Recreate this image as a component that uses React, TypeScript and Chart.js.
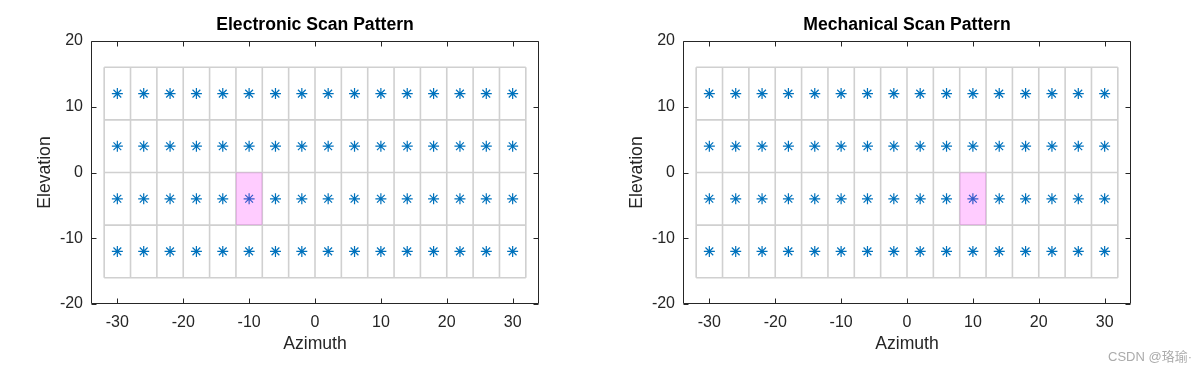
import { useEffect, useRef } from "react";
import { Chart, registerables } from "chart.js";
Chart.register(...registerables);

// ---- data ----
const azCenters = [-30, -26, -22, -18, -14, -10, -6, -2, 2, 6, 10, 14, 18, 22, 26, 30];
const elCenters = [-12, -4, 4, 12];
const azEdges = [-32, -28, -24, -20, -16, -12, -8, -4, 0, 4, 8, 12, 16, 20, 24, 28, 32];
const elEdges = [-16, -8, 0, 8, 16];
const xTicks = [-30, -20, -10, 0, 10, 20, 30];
const yTicks = [-20, -10, 0, 10, 20];
const xRange = [-34, 34];
const yRange = [-20, 20];
const titles = ["Electronic Scan Pattern", "Mechanical Scan Pattern"];
const activeAz = [-10, 10];
const activeEl = [-4, -4];
const xLabel = "Azimuth";
const yLabel = "Elevation";

const FONT = "'Liberation Sans', Arial, Helvetica, sans-serif";
const INK = "#262626";

function cellBounds(edges: number[], c: number): [number, number] {
  let lo = edges[0];
  let hi = edges[edges.length - 1];
  for (const e of edges) {
    if (e <= c && e > lo) lo = e;
    if (e >= c && e < hi) hi = e;
  }
  return [lo, hi];
}

const framePlugin = {
  id: "matlabFrame",
  afterDatasetsDraw(chart: any) {
    const { ctx, chartArea: a, scales } = chart;
    const x = scales.x;
    const y = scales.y;
    ctx.save();
    ctx.strokeStyle = INK;
    ctx.lineWidth = 1;
    const L = Math.round(a.left) + 0.5;
    const R = Math.round(a.right) - 0.5;
    const T = Math.round(a.top) + 0.5;
    const B = Math.round(a.bottom) - 0.5;
    ctx.beginPath();
    ctx.rect(L, T, R - L, B - T);
    const tl = 5;
    for (const t of x.ticks) {
      const px = Math.round(x.getPixelForValue(t.value)) + 0.5;
      ctx.moveTo(px, B);
      ctx.lineTo(px, B - tl);
      ctx.moveTo(px, T);
      ctx.lineTo(px, T + tl);
    }
    for (const t of y.ticks) {
      const py = Math.round(y.getPixelForValue(t.value)) + 0.5;
      ctx.moveTo(L, py);
      ctx.lineTo(L + tl, py);
      ctx.moveTo(R, py);
      ctx.lineTo(R - tl, py);
    }
    ctx.stroke();
    ctx.restore();
  },
};

function Panel({ idx, left }: { idx: number; left: number }) {
  const ref = useRef<HTMLCanvasElement>(null);
  useEffect(() => {
    if (!ref.current) return;
    const gridPts: any[] = [];
    for (const e of azEdges) {
      gridPts.push({ x: e, y: elEdges[0] });
      gridPts.push({ x: e, y: elEdges[elEdges.length - 1] });
      gridPts.push({ x: e, y: null });
    }
    for (const e of elEdges) {
      gridPts.push({ x: azEdges[0], y: e });
      gridPts.push({ x: azEdges[azEdges.length - 1], y: e });
      gridPts.push({ x: e, y: null });
    }
    const stars: any[] = [];
    for (const el of elCenters) for (const az of azCenters) stars.push({ x: az, y: el });
    const [ax0, ax1] = cellBounds(azEdges, activeAz[idx]);
    const [ey0, ey1] = cellBounds(elEdges, activeEl[idx]);
    const patch = [
      { x: ax0, y: ey0 },
      { x: ax1, y: ey0 },
      { x: ax1, y: ey1 },
      { x: ax0, y: ey1 },
      { x: ax0, y: ey0 },
    ];

    const chart = new Chart(ref.current, {
      type: "line",
      data: {
        datasets: [
          {
            data: patch,
            order: 0,
            fill: "shape",
            backgroundColor: "rgba(255,0,255,0.2)",
            borderColor: "transparent",
            borderWidth: 0,
            pointRadius: 0,
          } as any,
          {
            data: stars,
            order: 1,
            showLine: false,
            pointStyle: "star",
            pointRadius: 5.5,
            pointBorderColor: "#0072BD",
            pointBackgroundColor: "#0072BD",
            pointBorderWidth: 1.2,
          },
          {
            data: gridPts,
            order: 2,
            spanGaps: false,
            fill: false,
            borderColor: "#d0d0d0",
            borderWidth: 1.6,
            pointRadius: 0,
          },
        ],
      },
      options: {
        animation: false,
        responsive: false,
        events: [],
        layout: { padding: { left: 0, right: 61, top: 0, bottom: 0 } },
        plugins: {
          legend: { display: false },
          tooltip: { enabled: false },
          title: {
            display: true,
            text: titles[idx],
            fullSize: false,
            color: "#000",
            font: { family: FONT, size: 17.6, weight: "bold" },
            padding: { top: 14.3, bottom: 5.6 },
          },
        },
        scales: {
          x: {
            type: "linear",
            min: xRange[0],
            max: xRange[1],
            grid: { display: false, drawTicks: false },
            border: { display: false },
            ticks: {
              color: INK,
              font: { family: FONT, size: 16 },
              padding: 9,
              maxRotation: 0,
            },
            afterBuildTicks: (s: any) => {
              s.ticks = xTicks.map((v) => ({ value: v }));
            },
            afterFit: (s: any) => {
              s.height = 68;
            },
            title: {
              display: true,
              text: xLabel,
              color: INK,
              font: { family: FONT, size: 17.6 },
              padding: { top: 0, bottom: 17.4 },
            },
          },
          y: {
            type: "linear",
            min: yRange[0],
            max: yRange[1],
            grid: { display: false, drawTicks: false },
            border: { display: false },
            ticks: {
              color: INK,
              font: { family: FONT, size: 16 },
              padding: 8,
            },
            afterBuildTicks: (s: any) => {
              s.ticks = yTicks.map((v) => ({ value: v }));
            },
            afterFit: (s: any) => {
              s.width = 91;
            },
            title: {
              display: true,
              text: yLabel,
              color: INK,
              font: { family: FONT, size: 17.6 },
              padding: { top: 34.4, bottom: 0 },
            },
          },
        },
      },
      plugins: [framePlugin],
    } as any);
    return () => chart.destroy();
  }, [idx]);
  return (
    <canvas
      ref={ref}
      width={600}
      height={372}
      style={{ position: "absolute", left, top: 0, width: 600, height: 372 }}
    />
  );
}

export default function App() {
  return (
    <div
      style={{
        position: "absolute",
        left: 0,
        top: 0,
        width: 1200,
        height: 372,
        background: "#fff",
        overflow: "hidden",
      }}
    >
      <Panel idx={0} left={0} />
      <Panel idx={1} left={592} />
      <div
        style={{
          position: "absolute",
          left: 1108,
          top: 348,
          fontFamily: "'Liberation Sans', 'Noto Sans CJK SC', sans-serif",
          fontSize: 13,
          lineHeight: "18px",
          color: "#ababab",
          whiteSpace: "nowrap",
        }}
      >
        CSDN @珞瑜·
      </div>
    </div>
  );
}
